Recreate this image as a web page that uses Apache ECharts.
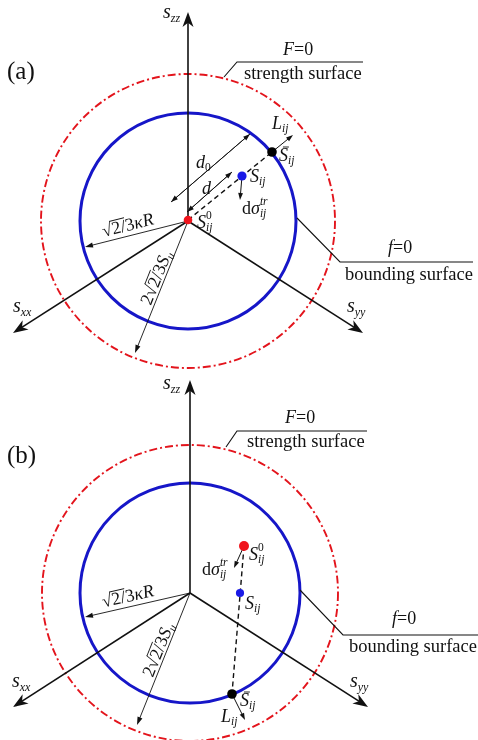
<!DOCTYPE html>
<html>
<head>
<meta charset="utf-8">
<script src="https://cdn.jsdelivr.net/npm/echarts@6/dist/echarts.min.js"></script>
<style>
  html, body { margin: 0; padding: 0; background: #fff; }
  #main { width: 478px; height: 740px; }
</style>
</head>
<body>
<div id="main"></div>
<script>
// Deviatoric-plane sketch: bounding surface f = 0 inside strength surface F = 0.
// Panel (a) loads outward from the centre, panel (b) after a stress reversal.

const panelTags = ['(a)', '(b)'];
// meeting point of the s_xx, s_yy, s_zz axes, per panel
const origins = [[188, 221], [190, 593]];
// radii of the bounding surface f = 0 and of the strength surface F = 0
const boundingRadius = [108, 110];
const strengthRadius = [147, 148];
// arrow tips of the axes, in the order s_zz, s_xx, s_yy
const axisTips = [
  [[188, 12], [13, 333], [363, 333]],
  [[190, 380], [13, 707], [368, 707]]
];
// reversal point S0, current stress S and its image S̄ on f = 0
const pointS0 = [[188, 220], [244, 546]];
const pointS = [[242, 176], [240, 593]];
const pointSbar = [[272, 152], [232, 694]];
// trial increment dσ^tr (from S in (a), from S0 in (b)) and normal L_ij
const dSigmaFrom = [pointS[0], pointS0[1]];
const dSigmaTip = [[240, 200], [234, 568]];
const normalTip = [[293, 135], [245, 720]];
// radius marks: √(2/3)κR reaching f = 0, 2√(2/3)S_u reaching F = 0
const kappaRTip = [[85, 247], [85, 617]];
const suTip = [[135, 353], [137, 725]];
// distance marks of panel (a): d0 (centre to f = 0) and d (centre to S)
const d0Ends = [[171, 202], [250, 134]];
const dEnds = [[187, 212], [232, 172]];
// leader lines pointing at the two surfaces
const strengthLeader = [
  [[224, 77], [237, 62], [363, 62]],
  [[226, 447], [237, 431], [367, 431]]
];
const boundingLeader = [
  [[297, 218], [340, 262], [473, 262]],
  [[300, 590], [343, 635], [478, 635]]
];
const surfaceNames = ['strength surface', 'bounding surface'];

const FONT = '"Liberation Serif", "DejaVu Serif", serif';
const MAIN = 18, SUB = 11.5;
const BLUE = '#1616c8', RED = '#e3141c', INK = '#111';

const meas = document.createElement('canvas').getContext('2d');
function textWidth(t, size, italic) {
  meas.font = (italic ? 'italic ' : '') + size + 'px ' + FONT;
  return meas.measureText(t).width;
}
function it(t, s, dy, extra) { return Object.assign({ t, s: s || MAIN, it: true, dy: dy || 0 }, extra); }
function rm(t, s, dy, extra) { return Object.assign({ t, s: s || MAIN, it: false, dy: dy || 0 }, extra); }
// symbol with subscript and optional stacked superscript
function sym(base, sub, sup, opts) {
  opts = opts || {};
  const runs = [it(base, opts.size || MAIN, 0, { bar: !!opts.bar })];
  if (sub) runs.push((opts.subRoman ? rm : it)(sub, SUB, 5));
  if (sup) runs.push((opts.supRoman ? rm : it)(sup, SUB, -7, { stack: true }));
  return runs;
}

function buildLabel(lab) {
  let x = 0, lastX0 = 0, lastW = 0;
  const placed = [];
  lab.runs.forEach(r => {
    const w = textWidth(r.t, r.s, r.it);
    const x0 = r.stack ? lastX0 : x;
    placed.push(Object.assign({ x0, w }, r));
    if (r.stack) x = Math.max(lastX0 + lastW, x0 + w);
    else { lastX0 = x0; lastW = w; x = x0 + w; }
  });
  const off = lab.anchor === 'center' ? -x / 2 : 0;
  const kids = [];
  placed.forEach(r => {
    kids.push({
      type: 'text', x: r.x0 + off, y: r.dy,
      style: {
        text: r.t, fontSize: r.s, fontFamily: FONT, fontStyle: r.it ? 'italic' : 'normal',
        fill: lab.color || INK, align: 'left', verticalAlign: 'middle'
      }
    });
    if (r.bar) {
      kids.push({ type: 'line', shape: { x1: r.x0 + off + r.s * 0.22, y1: r.dy - r.s * 0.5, x2: r.x0 + off + r.w + r.s * 0.05, y2: r.dy - r.s * 0.5 },
        style: { stroke: INK, lineWidth: 0.9 } });
    }
    if (r.over) {
      kids.push({ type: 'line', shape: { x1: r.x0 + off - 0.5, y1: r.dy - r.s * 0.5, x2: r.x0 + off + r.w + 0.5, y2: r.dy - r.s * 0.5 },
        style: { stroke: INK, lineWidth: 0.9 } });
    }
  });
  return { type: 'group', x: lab.x, y: lab.y, rotation: lab.rot || 0, children: kids };
}

function angleOf(a, b) {
  // counter-clockwise text rotation for a baseline running along a→b, read left to right
  let dx = b[0] - a[0], dy = b[1] - a[1];
  if (dx < 0) { dx = -dx; dy = -dy; }
  return Math.atan2(-dy, dx);
}

function renderItem(params, api) {
  const P = p => api.coord(p);
  const Rr = r => api.size([r, 0])[0];
  const kids = [];
  const seg = (a, b, st) => {
    const A = P(a), B = P(b);
    return { type: 'line', shape: { x1: A[0], y1: A[1], x2: B[0], y2: B[1] }, style: Object.assign({ stroke: INK, lineWidth: 1 }, st) };
  };
  const head = (a, b, len, half, notch) => {
    const A = P(a), B = P(b);
    const dx = B[0] - A[0], dy = B[1] - A[1], L = Math.hypot(dx, dy), ux = dx / L, uy = dy / L;
    const bx = B[0] - ux * len, by = B[1] - uy * len;
    const nx = B[0] - ux * len * (notch || 1), ny = B[1] - uy * len * (notch || 1);
    return { type: 'polygon', shape: { points: [[B[0], B[1]], [bx - uy * half, by + ux * half], [nx, ny], [bx + uy * half, by - ux * half]] }, style: { fill: INK } };
  };
  const arrow = (a, b, lw, len, half, notch) => {
    const A = P(a), B = P(b);
    const dx = B[0] - A[0], dy = B[1] - A[1], L = Math.hypot(dx, dy);
    const cut = len * 0.6;
    const e = [B[0] - dx / L * cut, B[1] - dy / L * cut];
    kids.push(seg(a, e, { lineWidth: lw }));
    kids.push(head(a, b, len, half, notch));
  };
  const dot = (p, color, r) => {
    const c = P(p);
    kids.push({ type: 'circle', shape: { cx: c[0], cy: c[1], r: r }, style: { fill: color } });
  };
  const poly = (pts, st) => ({ type: 'polyline', shape: { points: pts.map(P) }, style: Object.assign({ stroke: INK, lineWidth: 1.1, fill: 'none' }, st) });

  for (let k = 0; k < 2; k++) {
    const o = origins[k];
    const c = P(o);
    // surfaces
    kids.push({ type: 'circle', shape: { cx: c[0], cy: c[1], r: Rr(strengthRadius[k]) },
      style: { fill: 'none', stroke: RED, lineWidth: 1.9, lineDash: [8, 3, 2, 3] } });
    kids.push({ type: 'circle', shape: { cx: c[0], cy: c[1], r: Rr(boundingRadius[k]) },
      style: { fill: 'none', stroke: BLUE, lineWidth: 3 } });
    // leader lines
    kids.push(poly(strengthLeader[k]));
    kids.push(poly(boundingLeader[k]));
    // axes
    axisTips[k].forEach(t => arrow(o, t, 1.6, 15, 5.5, 0.72));
    // radius marks
    arrow(o, kappaRTip[k], 0.9, 8, 2.6);
    arrow(o, suTip[k], 0.9, 8, 2.6);
    // stress path
    kids.push(seg(pointS0[k], pointSbar[k], { lineWidth: 1.4, lineDash: [5, 3.5] }));
    arrow(dSigmaFrom[k], dSigmaTip[k], 1, 7, 2.4);
    arrow(pointSbar[k], normalTip[k], 1, 7, 2.4);
    if (k === 0) {
      arrow(d0Ends[0], d0Ends[1], 0.9, 7, 2.4);
      arrow(d0Ends[1], d0Ends[0], 0.9, 7, 2.4);
      arrow(dEnds[0], dEnds[1], 0.9, 7, 2.4);
      arrow(dEnds[1], dEnds[0], 0.9, 7, 2.4);
    }
    dot(pointSbar[k], '#000', 4.8);
    dot(pointS[k], '#1a1ae6', k === 0 ? 4.6 : 4.1);
    dot(pointS0[k], '#f0141c', k === 0 ? 4.3 : 5);
  }

  // text
  const sqrtRuns = () => [rm('√', MAIN), rm('2/', MAIN, 0, { over: true }), rm('3', MAIN)];
  const labels = [];
  const L = (runs, x, y, extra) => labels.push(Object.assign({ runs, x, y }, extra));
  const axisSym = sub => [it('s', 20), it(sub, 12, 6)];

  // panel (a)
  L([rm(panelTags[0], 25)], 7, 72);
  L(axisSym('zz'), 163, 13);
  L(axisSym('xx'), 13, 307);
  L(axisSym('yy'), 347, 307);
  L([it('F'), rm('=0')], 283, 50);
  L([rm(surfaceNames[0], 18.5)], 244, 74);
  L([it('f'), rm('=0')], 388, 248);
  L([rm(surfaceNames[1], 18.5)], 345, 275);
  L(sym('L', 'ij'), 272, 124);
  L(sym('S', 'ij', null, { bar: true }), 279, 156);
  L(sym('S', 'ij'), 250, 177);
  L([rm('d')].concat(sym('σ', 'ij', 'tr')), 242, 209);
  L(sym('S', 'ij', '0', { supRoman: true }), 197, 223);
  L(sym('d', '0', null, { subRoman: true }), 196, 163);
  L([it('d')], 202, 189);
  L(sqrtRuns().concat([it('κR')]), 128, 226, { anchor: 'center', rot: angleOf(origins[0], kappaRTip[0]) });
  L([rm('2')].concat(sqrtRuns(), sym('S', 'u')), 157, 278, { anchor: 'center', rot: angleOf(origins[0], suTip[0]) });

  // panel (b)
  L([rm(panelTags[1], 25)], 7, 456);
  L(axisSym('zz'), 163, 384);
  L(axisSym('xx'), 12, 682);
  L(axisSym('yy'), 350, 682);
  L([it('F'), rm('=0')], 285, 418);
  L([rm(surfaceNames[0], 18.5)], 247, 442);
  L([it('f'), rm('=0')], 392, 619);
  L([rm(surfaceNames[1], 18.5)], 349, 647);
  L(sym('S', 'ij', '0', { supRoman: true }), 249, 555);
  L([rm('d')].concat(sym('σ', 'ij', 'tr')), 202, 570);
  L(sym('S', 'ij'), 245, 604);
  L(sym('S', 'ij', null, { bar: true }), 240, 701);
  L(sym('L', 'ij'), 221, 717);
  L(sqrtRuns().concat([it('κR')]), 128, 597, { anchor: 'center', rot: angleOf(origins[1], kappaRTip[1]) });
  L([rm('2')].concat(sqrtRuns(), sym('S', 'u')), 159, 650, { anchor: 'center', rot: angleOf(origins[1], suTip[1]) });

  labels.forEach(l => {
    const p = P([l.x, l.y]);
    kids.push(buildLabel(Object.assign({}, l, { x: p[0], y: p[1] })));
  });

  return { type: 'group', children: kids };
}

const chart = echarts.init(document.getElementById('main'), null, { renderer: 'canvas' });
chart.setOption({
  animation: false,
  backgroundColor: '#fff',
  grid: { left: 0, right: 0, top: 0, bottom: 0 },
  xAxis: { type: 'value', min: 0, max: 478, show: false },
  yAxis: { type: 'value', min: 0, max: 740, inverse: true, show: false },
  series: [{
    type: 'custom',
    coordinateSystem: 'cartesian2d',
    clip: false,
    silent: true,
    data: [[0, 0]],
    renderItem
  }]
});
</script>
</body>
</html>
